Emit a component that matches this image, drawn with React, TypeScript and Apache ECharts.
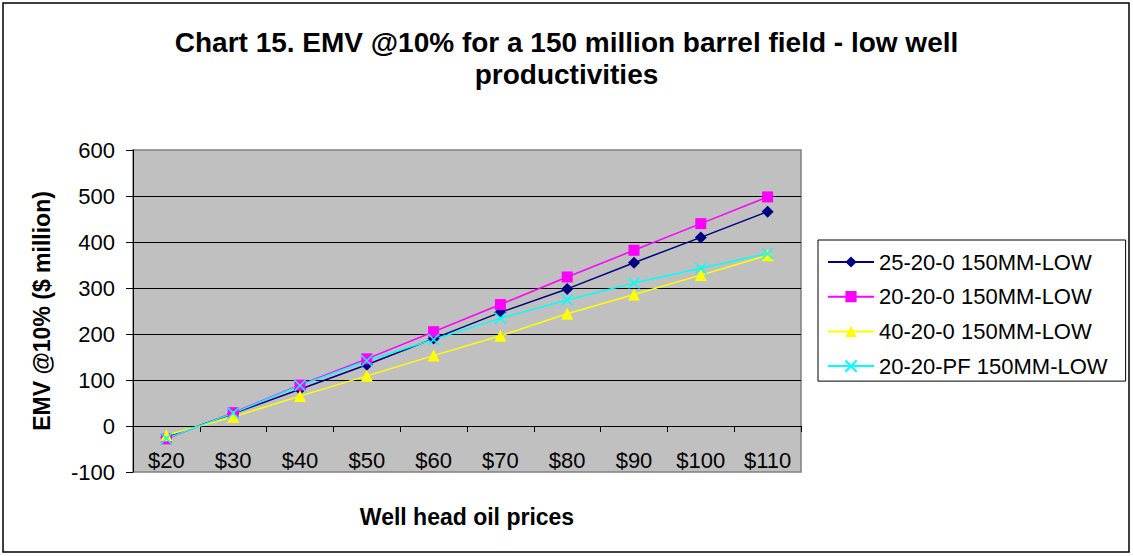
import React, { useEffect, useRef } from "react";
import * as echarts from "echarts";

const categories = ["$20", "$30", "$40", "$50", "$60", "$70", "$80", "$90", "$100", "$110"];
const seriesNames = [
  "25-20-0 150MM-LOW",
  "20-20-0 150MM-LOW",
  "40-20-0 150MM-LOW",
  "20-20-PF 150MM-LOW",
];
const s25_20_0 = [-25, 27, 80, 133, 190, 247, 298, 355, 410, 466];
const s20_20_0 = [-28, 29, 89, 146, 205, 264, 324, 382, 440, 498];
const s40_20_0 = [-20, 20, 65, 109, 153, 196, 244, 286, 328, 371];
const s20_20_PF = [-27, 28, 88, 142, 188, 234, 274, 311, 343, 375];
const yTicks = { min: -100, max: 600, interval: 100 };

const FONT = 'Arial, "Liberation Sans", sans-serif';

export default function App() {
  const ref = useRef<HTMLDivElement>(null);
  useEffect(() => {
    document.body.style.margin = "0";
    const chart = echarts.init(ref.current!, null, { renderer: "svg" });
    const mk = (name: string, data: number[], color: string, symbol: string, size: number, extra: any = {}) => ({
      name,
      type: "line",
      data,
      xAxisIndex: 0,
      yAxisIndex: 0,
      symbol,
      symbolSize: size,
      showAllSymbol: true,
      lineStyle: { color, width: 1.5 },
      itemStyle: { color, ...extra },
      emphasis: { disabled: true },
    });
    chart.setOption({
      animation: false,
      backgroundColor: "#ffffff",
      textStyle: { fontFamily: FONT },
      title: {
        text: "Chart 15. EMV @10% for a 150 million barrel field - low well\nproductivities",
        left: "center",
        top: 26,
        padding: [0, 0, 0, 24],
        textStyle: { fontSize: 28, fontWeight: "bold", color: "#000", lineHeight: 32, fontFamily: FONT },
      },
      graphic: [
        {
          type: "rect",
          shape: { x: 3, y: 3, width: 1126, height: 549 },
          style: { fill: "none", stroke: "#000", lineWidth: 1.5 },
          silent: true,
          z: 0,
        },
      ],
      legend: {
        orient: "vertical",
        left: 818,
        top: 240,
        itemWidth: 46,
        itemHeight: 14,
        itemGap: 12.7,
        padding: [11, 18, 4, 9],
        borderColor: "#000",
        borderWidth: 1,
        backgroundColor: "#fff",
        textStyle: { fontSize: 22, color: "#000", lineHeight: 22, fontFamily: FONT },
        data: seriesNames,
      },
      grid: {
        left: 133,
        top: 150,
        width: 668,
        height: 322,
        show: true,
        backgroundColor: "#C0C0C0",
        borderColor: "#808080",
        borderWidth: 1.5,
      },
      xAxis: [
        {
          type: "category",
          data: categories,
          boundaryGap: true,
          axisLine: { show: true, onZero: true, lineStyle: { color: "#000", width: 1 } },
          axisTick: { show: true, length: 6, alignWithLabel: false, lineStyle: { color: "#000" } },
          axisLabel: { show: false },
          splitLine: { show: false },
        },
        {
          type: "category",
          data: categories,
          position: "bottom",
          boundaryGap: true,
          axisLine: { show: false, onZero: false },
          axisTick: { show: false },
          axisLabel: { show: true, inside: true, margin: 1, fontSize: 22, color: "#000", fontFamily: FONT },
          splitLine: { show: false },
          name: "Well head oil prices",
          nameLocation: "middle",
          nameGap: 33,
          nameTextStyle: { fontSize: 23, fontWeight: "bold", color: "#000", fontFamily: FONT },
        },
      ],
      yAxis: {
        type: "value",
        min: yTicks.min,
        max: yTicks.max,
        interval: yTicks.interval,
        axisLine: { show: true, lineStyle: { color: "#000", width: 1 } },
        axisTick: { show: true, length: 7, lineStyle: { color: "#000" } },
        axisLabel: { fontSize: 22, color: "#000", margin: 18, fontFamily: FONT },
        splitLine: { show: true, showMinLine: false, showMaxLine: false, lineStyle: { color: "#000", width: 1 } },
        name: "EMV @10% ($ million)",
        nameLocation: "middle",
        nameGap: 80,
        nameTextStyle: { fontSize: 23, fontWeight: "bold", color: "#000", fontFamily: FONT },
      },
      series: [
        mk(seriesNames[0], s25_20_0, "#000080", "diamond", 12),
        mk(seriesNames[1], s20_20_0, "#FF00FF", "rect", 11),
        mk(seriesNames[2], s40_20_0, "#FFFF00", "triangle", 12),
        mk(seriesNames[3], s20_20_PF, "#00FFFF", "path://M0,0L10,10M10,0L0,10", 11, {
          borderColor: "#00FFFF",
          borderWidth: 1.5,
        }),
      ],
    });
    return () => chart.dispose();
  }, []);
  return <div ref={ref} style={{ width: 1133, height: 556 }} />;
}
